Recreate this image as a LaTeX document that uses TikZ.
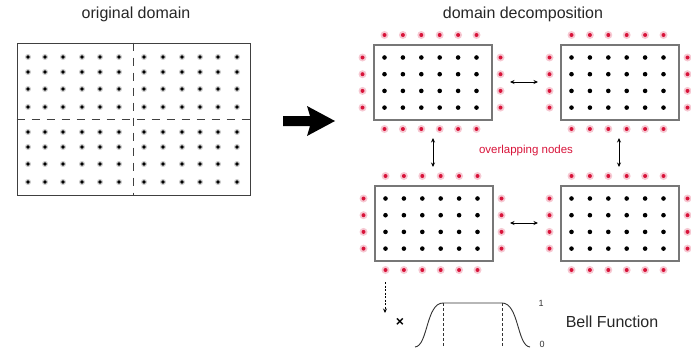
\documentclass[tikz,border=0pt]{standalone}
\usepackage{fontspec}
\setmainfont{Liberation Sans}
\usetikzlibrary{arrows.meta}
\definecolor{dotred}{HTML}{D8143A}
\definecolor{halored}{HTML}{F6C8D2}
\definecolor{boxgray}{HTML}{777777}
\tikzset{
  domainbox/.style={draw=boxgray,line width=1.6pt,fill=white},
  origbox/.style={draw=black!75,line width=0.9pt},
  cutline/.style={draw=black!75,line width=0.9pt,dash pattern=on 8pt off 7pt},
  dbl/.style={line width=0.8pt,{Stealth[length=4.5pt,width=4pt]}-{Stealth[length=4.5pt,width=4pt]}},
  title/.style={font=\fontsize{16}{18}\selectfont,text=black!85},
}
\begin{document}
\begin{tikzpicture}[x=1pt,y=-1pt]
\useasboundingbox (0,0) rectangle (691,348);
% titles
\node[title] (t1) at (136,14) {original domain};
\node[title] (t2) at (523,14) {domain decomposition};
% original domain
\node[origbox,minimum width=233pt,minimum height=152pt,inner sep=0pt] (orig) at (133.5,119) {};
\foreach \x in {28,45,63,82,100,119,144,163,182,200,218,237}{
  \foreach \y in {57,72,89,107,132,147,164,182}{
    \fill[black!22] (\x,\y) circle (3pt);
    \fill[black] (\x,\y) circle (1.8pt);
  }}
\draw[cutline] (orig.north) -- (orig.south);
\draw[cutline] (orig.west) -- (orig.east);
% big arrow
\fill[black] (283,116) -- (310,116) -- (307,106) -- (335,121) -- (307,136) -- (310,126) -- (283,126) -- cycle;
% decomposition boxes
\foreach \bx/\by/\nm in {373/44/A,560/44/B,374/185/C,560/185/D}{
  \node[domainbox,anchor=north west,minimum width=118pt,minimum height=75pt,inner sep=0pt] (\nm) at (\bx,\by) {};
}
\foreach \bx/\by in {373/44,560/44,374/185,560/185}{
  \foreach \i in {0,...,5}{
    \foreach \j in {0,...,3}{
      \fill[black] (\bx+11.5+\i*18.4,\by+13.5+\j*16.7) circle (2.3pt);
    }
    \fill[halored] (\bx+11.5+\i*18.4,\by-9) circle (4pt);
    \fill[dotred] (\bx+11.5+\i*18.4,\by-9) circle (2pt);
    \fill[halored] (\bx+11.5+\i*18.4,\by+85) circle (4pt);
    \fill[dotred] (\bx+11.5+\i*18.4,\by+85) circle (2pt);
  }
  \foreach \j in {0,...,3}{
    \fill[halored] (\bx-10.5,\by+13.5+\j*16.7) circle (4pt);
    \fill[dotred] (\bx-10.5,\by+13.5+\j*16.7) circle (2pt);
    \fill[halored] (\bx+127.5,\by+13.5+\j*16.7) circle (4pt);
    \fill[dotred] (\bx+127.5,\by+13.5+\j*16.7) circle (2pt);
  }
}
% double arrows
\coordinate (h1a) at (510,82); \coordinate (h1b) at (538,82);
\coordinate (h2a) at (510,223); \coordinate (h2b) at (538,223);
\coordinate (v1a) at (433,138); \coordinate (v1b) at (433,167);
\coordinate (v2a) at (619,138); \coordinate (v2b) at (619,167);
\draw[dbl] (h1a) -- (h1b);
\draw[dbl] (h2a) -- (h2b);
\draw[dbl] (v1a) -- (v1b);
\draw[dbl] (v2a) -- (v2b);
\node[text=dotred,font=\fontsize{11.5}{13}\selectfont] (ov) at (526,151) {overlapping nodes};
% bell function
\coordinate (da) at (385,282); \coordinate (db) at (385,313);
\draw[line width=0.8pt,dash pattern=on 2pt off 1.5pt,-{Stealth[length=4.5pt,width=4pt]}] (da) -- (db);
\node[font=\fontsize{14}{15}\selectfont\bfseries] (times) at (400,322) {×};
\draw[line width=0.9pt,black!80] (415,347) .. controls (428,346) and (426,303) .. (443,303) -- (502,303) .. controls (519,303) and (517,346) .. (530,347);
\draw[black!80,line width=0.8pt,dash pattern=on 3pt off 2pt] (443,303) -- (443,348);
\draw[black!80,line width=0.8pt,dash pattern=on 3pt off 2pt] (502,303) -- (502,348);
\node[font=\fontsize{9}{10}\selectfont,text=black!80] (one) at (541,303) {1};
\node[font=\fontsize{9}{10}\selectfont,text=black!80] (zero) at (542,344) {0};
\node[title] (bf) at (612,322) {Bell Function};
\end{tikzpicture}
\end{document}
